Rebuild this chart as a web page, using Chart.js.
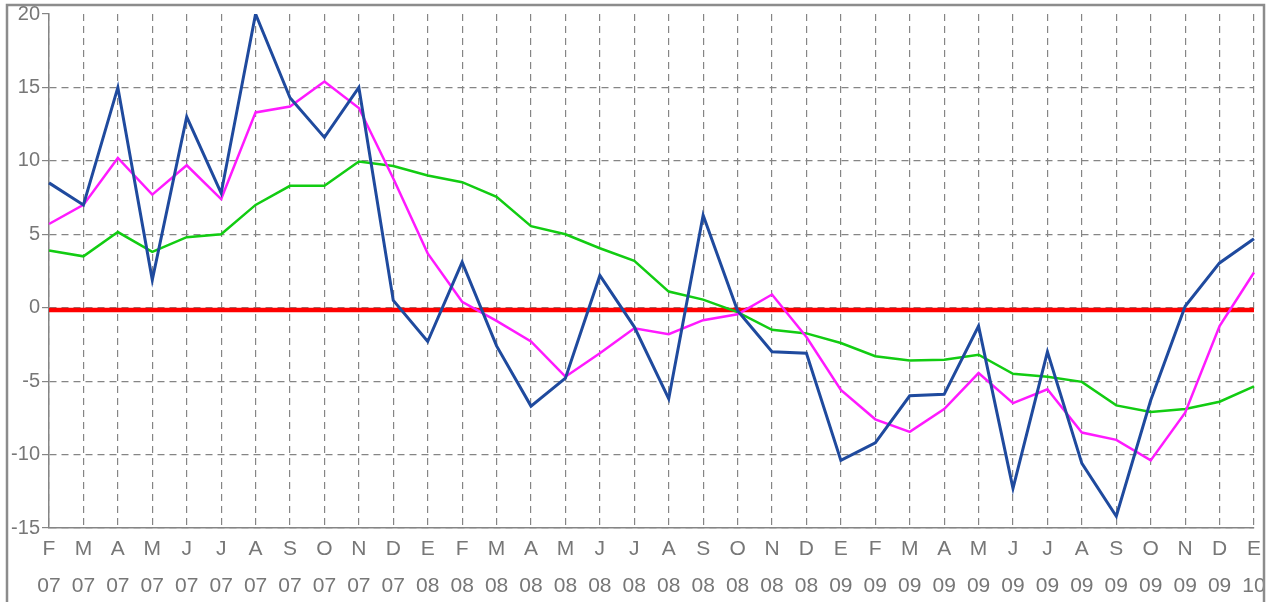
<!DOCTYPE html>
<html>
<head>
<meta charset="utf-8">
<script src="https://cdn.jsdelivr.net/npm/chart.js@4"></script>
<style>
  html, body { margin: 0; padding: 0; background: #fff; }
  canvas { display: block; }
</style>
</head>
<body>
<canvas id="myChart" width="1274" height="602"></canvas>
<script>
// month initials (Spanish) and years, Feb 2007 .. Jan 2010
const months = ["F", "M", "A", "M", "J", "J", "A", "S", "O", "N", "D",
    "E", "F", "M", "A", "M", "J", "J", "A", "S", "O", "N", "D",
    "E", "F", "M", "A", "M", "J", "J", "A", "S", "O", "N", "D",
    "E"];
const years = ["07", "07", "07", "07", "07", "07", "07", "07", "07", "07", "07",
    "08", "08", "08", "08", "08", "08", "08", "08", "08", "08", "08", "08",
    "09", "09", "09", "09", "09", "09", "09", "09", "09", "09", "09", "09",
    "10"];

const serieAzul = [8.5, 7.0, 15.0, 1.9, 13.0, 7.8, 20.0, 14.3, 11.6, 15.0, 0.5,
    -2.3, 3.1, -2.6, -6.7, -4.8, 2.2, -1.3, -6.2, 6.3, -0.2, -3.0, -3.1,
    -10.4, -9.2, -6.0, -5.9, -1.25, -12.3, -3.0, -10.6, -14.2, -6.3, 0.1, 3.05,
    4.7];
const serieMagenta = [5.7, 7.0, 10.2, 7.7, 9.7, 7.4, 13.3, 13.7, 15.4, 13.6, 8.8,
    3.7, 0.4, -0.9, -2.3, -4.7, -3.1, -1.4, -1.8, -0.85, -0.45, 0.9, -2.0,
    -5.6, -7.6, -8.45, -6.9, -4.45, -6.5, -5.55, -8.5, -9.0, -10.4, -7.15, -1.25,
    2.4];
const serieVerde = [3.9, 3.5, 5.15, 3.8, 4.8, 5.0, 7.0, 8.3, 8.3, 9.95, 9.65,
    9.0, 8.55, 7.55, 5.55, 5.0, 4.05, 3.2, 1.1, 0.55, -0.3, -1.5, -1.75,
    -2.4, -3.3, -3.6, -3.55, -3.2, -4.5, -4.7, -5.05, -6.65, -7.1, -6.9, -6.4,
    -5.35];
const lineaCero = new Array(months.length).fill(-0.15);

const yTicks = [-15, -10, -5, 0, 5, 10, 15, 20];

const labels = months.map((m, i) => [m, years[i]]);

const framePlugin = {
    id: "frame",
    afterDraw(chart) {
        const ctx = chart.ctx;
        ctx.save();
        ctx.fillStyle = "#fff";
        ctx.fillRect(1265, 0, 20, 602);
        ctx.strokeStyle = "#8c8c8c";
        ctx.lineWidth = 2.5;
        ctx.strokeRect(7, 5, 1257, 700);
        ctx.restore();
    }
};

const gris = "#858585";

new Chart("myChart", {
    type: "line",
    data: {
        labels: labels,
        datasets: [
            { data: serieAzul, borderColor: "#1f4a9e", borderWidth: 3 },
            { data: serieMagenta, borderColor: "#ff1aff", borderWidth: 2.5 },
            { data: serieVerde, borderColor: "#12cc12", borderWidth: 2.5 },
            { data: lineaCero, borderColor: "#ff0000", borderWidth: 4.5 }
        ]
    },
    options: {
        responsive: false,
        animation: false,
        devicePixelRatio: 1,
        layout: { padding: { left: 0, top: 14, right: 20, bottom: 0 } },
        elements: {
            point: { radius: 0 },
            line: { tension: 0, fill: false, borderCapStyle: "butt" }
        },
        plugins: {
            legend: { display: false },
            tooltip: { enabled: false }
        },
        scales: {
            x: {
                offset: false,
                grid: {
                    color: gris,
                    lineWidth: 1.2,
                    drawTicks: false
                },
                border: { display: true, color: gris, width: 1.5, dash: [7, 5] },
                ticks: {
                    autoSkip: false,
                    maxRotation: 0,
                    minRotation: 0,
                    padding: 3,
                    color: "#777",
                    font: { family: "'Liberation Sans', Arial, sans-serif", size: 21, lineHeight: 1.74 }
                },
                afterFit(scale) { scale.height = 74; }
            },
            y: {
                min: yTicks[0],
                max: yTicks[yTicks.length - 1],
                afterBuildTicks(scale) { scale.ticks = yTicks.map(v => ({ value: v })); },
                grid: {
                    color: ctx => (ctx.tick && ctx.tick.value === 20) ? "rgba(0,0,0,0)" : gris,
                    lineWidth: 1.2,
                    tickLength: 7,
                    tickColor: gris
                },
                border: { display: true, color: gris, width: 1.5, dash: [7, 5] },
                ticks: {
                    padding: 2,
                    color: "#777",
                    font: { family: "'Liberation Sans', Arial, sans-serif", size: 20 }
                },
                afterFit(scale) { scale.width = 49; }
            }
        }
    },
    plugins: [framePlugin]
});
</script>
</body>
</html>
